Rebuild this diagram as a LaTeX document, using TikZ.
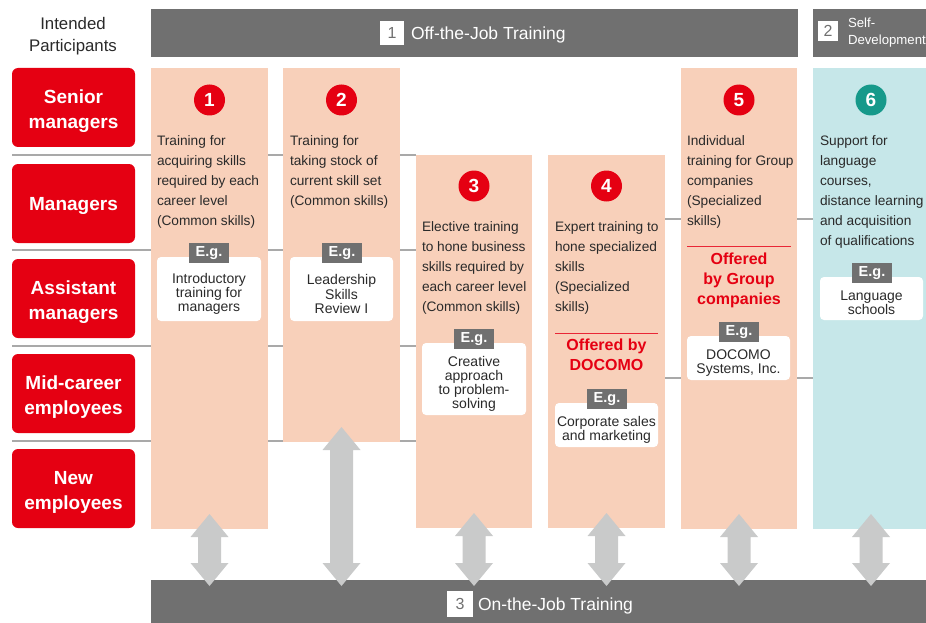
\documentclass[tikz,border=0pt]{standalone}
\usepackage{fontspec}
\setmainfont{Liberation Sans}
\usetikzlibrary{calc}
\definecolor{barG}{HTML}{707070}
\definecolor{pinkC}{HTML}{F8D0BA}
\definecolor{cyanC}{HTML}{C6E7E9}
\definecolor{redC}{HTML}{E50012}
\definecolor{tealC}{HTML}{16998A}
\definecolor{arrowG}{HTML}{C9CACA}
\definecolor{lineG}{HTML}{A9A9A9}
\definecolor{txt}{HTML}{2A2A2A}
\newcommand\dblarrow[2]{\fill[arrowfill] let \p1=(#1), \p2=(#2) in
  (\x1,\y1) -- (\x1+19pt,\y1-23pt) -- (\x1+11.5pt,\y1-23pt) -- (\x1+11.5pt,\y2+23pt)
  -- (\x1+19pt,\y2+23pt) -- (\x1,\y2) -- (\x1-19pt,\y2+23pt) -- (\x1-11.5pt,\y2+23pt)
  -- (\x1-11.5pt,\y1-23pt) -- (\x1-19pt,\y1-23pt) -- cycle;}
\begin{document}
\begin{tikzpicture}[x=1pt,y=-1pt,
  every node/.style={inner sep=0pt, outer sep=0pt},
  bar/.style={fill=barG, anchor=north west},
  numsq/.style={fill=white, minimum size=24pt, text=barG, font=\fontsize{16}{16}\selectfont},
  bartext/.style={text=white, font=\fontsize{17.5}{20}\selectfont, anchor=west},
  role/.style={fill=redC, rounded corners=6pt, minimum width=123pt, minimum height=79pt, text=white, align=center, font=\bfseries\fontsize{19}{25}\selectfont},
  roletext/.style={text=white, align=center, font=\bfseries\fontsize{19}{25}\selectfont},
  pinkcol/.style={fill=pinkC, anchor=north west},
  cyancol/.style={fill=cyanC, anchor=north west},
  numc/.style={circle, fill=redC, minimum size=31pt, text=white, font=\bfseries\fontsize{19}{19}\selectfont},
  desc/.style={anchor=north west, align=left, text=txt, font=\fontsize{13.7}{20}\selectfont},
  exbox/.style={fill=white, rounded corners=4pt},
  extext/.style={align=center, text=txt, font=\fontsize{14}{14.2}\selectfont},
  egtag/.style={fill=barG, minimum width=40pt, minimum height=20pt, text=white, font=\bfseries\fontsize{14.5}{14.5}\selectfont},
  offer/.style={anchor=north, align=center, text=redC, font=\bfseries\fontsize{16}{20}\selectfont},
  redrule/.style={draw=redC!85, line width=1pt},
  rowline/.style={draw=lineG, line width=2.5pt},
  arrowfill/.style={fill=arrowG}
]
\useasboundingbox (0,0) rectangle (926,623);

% row separator lines
\draw[rowline] (12,155) -- (416,155);
\draw[rowline] (12,250) -- (416,250);
\draw[rowline] (12,346) -- (416,346);
\draw[rowline] (12,441) -- (416,441);
\draw[rowline] (665,219) -- (813,219);
\draw[rowline] (665,378) -- (813,378);

% header
\node[align=center, text=txt, font=\fontsize{16.8}{22}\selectfont] (hdr) at (73,36) {Intended\\Participants};

% top bars
\node[bar, minimum width=647pt, minimum height=48pt] (offjt) at (151,9) {};
\node[numsq] (n1) at (392,33) {1};
\node[bartext] (offjtT) at (411,34.5) {Off-the-Job Training};
\node[bar, minimum width=113pt, minimum height=48pt] (selfbar) at (813,9) {};
\node[numsq, minimum size=20pt] (n2) at (828,31) {2};
\node[anchor=west, align=left, text=white, font=\fontsize{13.2}{17}\selectfont] (selfT) at (848,33) {Self-\\Development};

% role boxes
\node[role] (r1) at (73.5,107.5) {};
\node[roletext] (r1t) at (73.5,111) {Senior\\managers};
\node[role] (r2) at (73.5,203.5) {};
\node[roletext] (r2t) at (73.5,205.5) {Managers};
\node[role] (r3) at (73.5,298.5) {};
\node[roletext] (r3t) at (73.5,302) {Assistant\\managers};
\node[role] (r4) at (73.5,393.5) {};
\node[roletext] (r4t) at (73.5,397) {Mid-career\\employees};
\node[role] (r5) at (73.5,488.5) {};
\node[roletext] (r5t) at (73.5,492) {New\\employees};

% columns
\node[pinkcol, minimum width=117pt, minimum height=461pt] (c1) at (151,68) {};
\node[pinkcol, minimum width=117pt, minimum height=374pt] (c2) at (283,68) {};
\node[pinkcol, minimum width=116pt, minimum height=373pt] (c3) at (416,155) {};
\node[pinkcol, minimum width=117pt, minimum height=373pt] (c4) at (548,155) {};
\node[pinkcol, minimum width=116pt, minimum height=461pt] (c5) at (681,68) {};
\node[cyancol, minimum width=113pt, minimum height=461pt] (c6) at (813,68) {};

% number circles
\node[numc] (k1) at (209.5,100) {1};
\node[numc] (k2) at (341.5,100) {2};
\node[numc] (k3) at (474,186) {3};
\node[numc] (k4) at (606.5,186) {4};
\node[numc] (k5) at (739,100) {5};
\node[numc, fill=tealC] (k6) at (871,100) {6};

% descriptions
\node[desc] (d1) at (157,136) {Training for\\acquiring skills\\required by each\\career level\\(Common skills)};
\node[desc] (d2) at (290,136) {Training for\\taking stock of\\current skill set\\(Common skills)};
\node[desc] (d3) at (422,222) {Elective training\\to hone business\\skills required by\\each career level\\(Common skills)};
\node[desc] (d4) at (555,222) {Expert training to\\hone specialized\\skills\\(Specialized\\skills)};
\node[desc] (d5) at (687,136) {Individual\\training for Group\\companies\\(Specialized\\skills)};
\node[desc] (d6) at (820,136) {Support for\\language\\courses,\\distance learning\\and acquisition\\of qualifications};

% offered by
\draw[redrule] (555,333) -- (658,333);
\node[offer] (o4) at (606.5,339) {Offered by\\DOCOMO};
\draw[redrule] (687,246) -- (791,246);
\node[offer] (o5) at (739,253) {Offered\\by Group\\companies};

% example boxes
\node[exbox, minimum width=104pt, minimum height=64pt] (e1) at (209,289) {};
\node[extext] (t1) at (209,294) {Introductory\\training for\\managers};
\node[egtag] (g1) at (209,253) {E.g.};
\node[exbox, minimum width=103pt, minimum height=64pt] (e2) at (341.5,289) {};
\node[extext] (t2) at (341.5,294) {Leadership\\Skills\\Review I};
\node[egtag] (g2) at (342,253) {E.g.};
\node[exbox, minimum width=104pt, minimum height=72pt] (e3) at (474,379) {};
\node[extext] (t3) at (474,384) {Creative\\approach\\to problem-\\solving};
\node[egtag] (g3) at (474,339) {E.g.};
\node[exbox, minimum width=103pt, minimum height=44pt] (e4) at (606.5,425) {};
\node[extext] (t4) at (606.5,430) {Corporate sales\\and marketing};
\node[egtag] (g4) at (607,399) {E.g.};
\node[exbox, minimum width=103pt, minimum height=44pt] (e5) at (738.5,358) {};
\node[extext] (t5) at (738.5,363) {DOCOMO\\Systems, Inc.};
\node[egtag] (g5) at (739,332) {E.g.};
\node[exbox, minimum width=103pt, minimum height=43pt] (e6) at (871.5,298.5) {};
\node[extext] (t6) at (871.5,303) {Language\\schools};
\node[egtag] (g6) at (872,273) {E.g.};

% bottom bar
\node[bar, minimum width=775pt, minimum height=43pt] (ojt) at (151,580) {};
\node[numsq, minimum size=26pt] (n3) at (460,604) {3};
\node[bartext] (ojtT) at (478,605.5) {On-the-Job Training};

% double arrows
\foreach \c/\xs in {c1/0,c2/0,c3/0,c4/0,c5/0,c6/1.5}{
  \coordinate (\c t) at ($(\c.south)+(\xs,-15)$);
  \coordinate (\c b) at ([yshift=-6pt]\c t |- ojt.north);
}
\dblarrow{c1t}{c1b}
\dblarrow{c2t}{c2b}
\dblarrow{c3t}{c3b}
\dblarrow{c4t}{c4b}
\dblarrow{c5t}{c5b}
\dblarrow{c6t}{c6b}
\end{tikzpicture}
\end{document}
